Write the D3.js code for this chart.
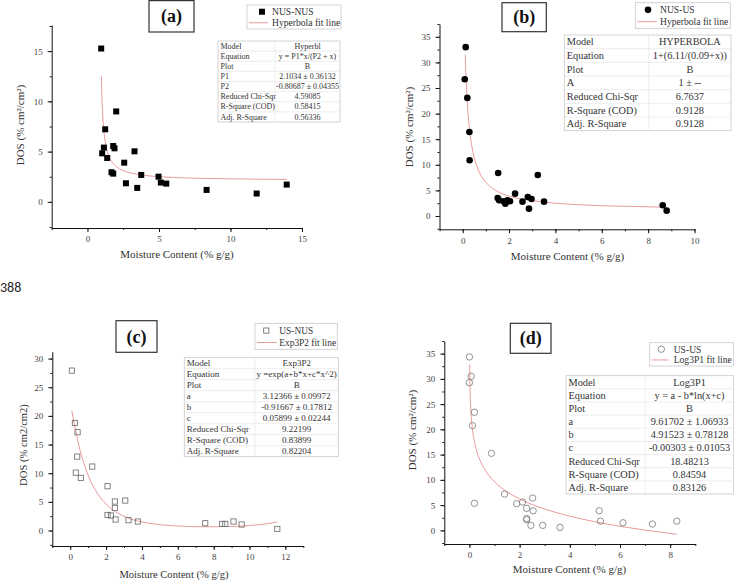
<!DOCTYPE html>
<html><head><meta charset="utf-8">
<script src="https://cdn.jsdelivr.net/npm/d3@7"></script>
<style>
body{margin:0;background:#fff}
svg{display:block}
</style></head>
<body>
<svg id="fig" width="734" height="580"></svg>
<script>
// ---------- Panel (a) NUS-NUS ----------
const aMoisture=[0.96,1.03,1.15,1.24,1.38,2.01,1.80,1.89,1.68,1.80,2.57,2.69,3.29,3.48,3.76,4.97,5.13,5.51,8.33,11.83,13.93];
const aDOS=[15.26,4.83,5.40,7.22,4.37,9.00,5.56,5.33,2.95,2.81,3.90,1.85,5.03,1.39,2.68,2.51,1.92,1.82,1.19,0.83,1.72];
const aFitX=[0.97,1.0,1.05,1.1,1.2,1.35,1.5,1.75,2,2.5,3,4,5,6,8,10,12,13.93];
const aFitY=[12.5,10.9,9.08,7.89,6.42,5.23,4.55,3.90,3.53,3.11,2.88,2.63,2.51,2.43,2.34,2.29,2.26,2.23];
const aXTicks=[0,5,10,15];
const aYTicks=[0,5,10,15];
const aTableLabels=["Model","Equation","Plot","P1","P2","Reduced Chi-Sqr","R-Square (COD)","Adj. R-Square"];
const aTableValues=["Hyperbl","y = P1*x/(P2 + x)","B","2.1034 ± 0.36132","-0.80687 ± 0.04355","4.59085","0.58415","0.56336"];

// ---------- Panel (b) NUS-US ----------
const bMoisture=[0.13,0.09,0.20,0.29,0.30,1.53,1.51,1.57,1.76,1.84,1.93,2.04,2.26,2.58,2.81,2.86,2.97,3.24,3.51,8.63,8.80];
const bDOS=[32.98,26.7,23.07,16.4,10.9,8.4,3.52,3.07,2.87,2.41,3.07,2.87,4.36,2.80,3.72,1.43,3.32,8.02,2.80,2.09,1.04];
const bFitX=[0.11,0.15,0.2,0.3,0.4,0.5,0.7,1,1.5,2,3,4,5,6,7,8,8.8];
const bFitY=[31.5,26.5,22.1,16.7,13.5,11.4,8.7,6.6,4.8,3.9,3.0,2.5,2.2,2.0,1.9,1.8,1.7];
const bXTicks=[0,2,4,6,8,10];
const bYTicks=[0,5,10,15,20,25,30,35];
const bTableLabels=["Model","Equation","Plot","A","Reduced Chi-Sqr","R-Square (COD)","Adj. R-Square"];
const bTableValues=["HYPERBOLA","1+(6.11/(0.09+x))","B","1 ± --","6.7637","0.9128","0.9128"];

// ---------- Panel (c) US-NUS ----------
const cMoisture=[0.09,0.26,0.41,0.39,0.31,0.59,1.23,2.08,2.49,3.07,2.49,2.08,2.27,2.53,3.25,3.77,7.53,8.48,8.65,9.11,9.56,11.55];
const cDOS=[27.9,18.77,17.15,12.9,10.1,9.18,11.16,7.73,5.06,5.23,3.94,2.72,2.62,1.92,1.80,1.57,1.27,1.16,1.16,1.57,1.05,0.28];
const cFitX=[0.09,0.5,1,1.5,2,2.5,3,3.5,4,5,6,7,7.8,9,10,11,11.55];
const cFitY=[20.9,14.6,9.64,6.56,4.60,3.32,2.47,1.89,1.49,1.02,0.78,0.67,0.65,0.71,0.87,1.20,1.50];
const cXTicks=[0,2,4,6,8,10,12];
const cYTicks=[0,5,10,15,20,25,30];
const cTableLabels=["Model","Equation","Plot","a","b","c","Reduced Chi-Sqr","R-Square (COD)","Adj. R-Square"];
const cTableValues=["Exp3P2","y =exp(a+b*x+c*x^2)","B","3.12366 ± 0.09972","-0.91667 ± 0.17812","0.05899 ± 0.02244","9.22199","0.83899","0.82204"];

// ---------- Panel (d) US-US ----------
const dMoisture=[0.0,0.07,0.0,0.2,0.12,0.2,0.88,1.40,1.88,2.12,2.52,2.28,2.54,2.28,2.28,2.45,2.92,3.61,5.17,5.22,6.12,7.29,8.26];
const dDOS=[34.34,30.5,29.25,23.38,20.73,5.35,15.26,7.19,5.27,5.61,6.4,4.36,3.88,2.35,2.1,0.99,0.99,0.59,3.88,1.84,1.51,1.25,1.84];
const dFitX=[0.012,0.02,0.03,0.05,0.1,0.2,0.3,0.5,0.75,1,1.5,2,3,4,5,6,7,8,8.26];
const dFitY=[32.8,29.65,27.38,24.65,21.08,17.6,15.58,13.05,11.05,9.63,7.63,6.22,4.22,2.81,1.71,0.81,0.05,-0.6,-0.76];
const dXTicks=[0,2,4,6,8];
const dYTicks=[0,5,10,15,20,25,30,35];
const dTableLabels=["Model","Equation","Plot","a","b","c","Reduced Chi-Sqr","R-Square (COD)","Adj. R-Square"];
const dTableValues=["Log3P1","y = a - b*ln(x+c)","B","9.61702 ± 1.06933","4.91523 ± 0.78128","-0.00303 ± 0.01053","18.48213","0.84594","0.83126"];

const svg=d3.select("#fig");
const FIT="#e58f8f";
const SERIF='"Liberation Serif","Times New Roman",serif';

function panel(p){
  const g=svg.append("g");
  const x=d3.scaleLinear().domain(p.xd).range(p.xr);
  const y=d3.scaleLinear().domain(p.yd).range(p.yr);
  const x0=p.xr[0], y0=p.yr[0];
  const xm=d3.range(p.xd[0],p.xd[1]+1e-9,p.xMinor);
  const ym=d3.range(Math.ceil(p.yd[0]/p.yMinor)*p.yMinor,p.yd[1]+1e-9,p.yMinor);
  g.append("g").attr("transform",`translate(0,${y0})`)
   .call(d3.axisBottom(x).tickValues(xm).tickSize(2).tickSizeOuter(0).tickFormat(""))
   .call(s=>s.select(".domain").remove());
  g.append("g").attr("transform",`translate(${x0},0)`)
   .call(d3.axisLeft(y).tickValues(ym).tickSize(2).tickSizeOuter(0).tickFormat(""))
   .call(s=>s.select(".domain").remove());
  const ax=g.append("g").attr("transform",`translate(0,${y0})`)
   .call(d3.axisBottom(x).tickValues(p.xTicks).tickSize(4).tickSizeOuter(0).tickPadding(4).tickFormat(d3.format("d")));
  const ay=g.append("g").attr("transform",`translate(${x0},0)`)
   .call(d3.axisLeft(y).tickValues(p.yTicks).tickSize(4).tickSizeOuter(0).tickPadding(5).tickFormat(d3.format("d")));
  [ax,ay].forEach(a=>{a.attr("font-family",null).attr("font-size",null);
    a.selectAll("text").style("font-size","9px").attr("fill","#444");
    a.select(".domain").attr("stroke","#111");});
  g.selectAll(".tick line").attr("stroke","#111");
  g.append("text").attr("x",p.xlab[0]).attr("y",p.xlab[1]).attr("text-anchor","middle")
   .style("font-size",p.labSize+"px").attr("fill","#333").text("Moisture Content (% g/g)");
  g.append("text").attr("transform",`translate(${p.ylab[0]},${p.ylab[1]}) rotate(-90)`).attr("text-anchor","middle")
   .style("font-size",p.labSize+"px").attr("fill","#333").text(p.ytitle);
  const fit=p.fitX.map((v,i)=>[v,p.fitY[i]]);
  g.append("path").datum(fit).attr("fill","none").attr("stroke",FIT).attr("stroke-width",0.9)
   .attr("d",d3.line().x(d=>x(d[0])).y(d=>y(d[1])).curve(d3.curveMonotoneX));
  const pts=p.px.map((v,i)=>[v,p.py[i]]);
  drawMarkers(g,pts.map(d=>[x(d[0]),y(d[1])]),p.marker);
  const tb=p.tbox;
  g.append("rect").attr("x",tb[0]).attr("y",tb[1]).attr("width",tb[2]).attr("height",tb[3])
   .attr("fill","#fff").attr("stroke","#333").attr("stroke-width",1.2);
  g.append("text").attr("x",tb[0]+tb[2]/2).attr("y",tb[1]+tb[3]/2+6).attr("text-anchor","middle")
   .style("font-size","18px").style("font-weight","bold").attr("fill","#111").text(p.title);
  const lg=p.legend;
  g.append("rect").attr("x",lg[0]).attr("y",lg[1]).attr("width",lg[2]).attr("height",lg[3])
   .attr("fill","#fff").attr("stroke","#c8c8c8").attr("stroke-width",0.8);
  const r1=lg[1]+lg[3]*0.28, r2=lg[1]+lg[3]*0.74;
  drawMarkers(g,[[lg[0]+p.legMx,r1]],p.marker);
  g.append("line").attr("x1",lg[0]+2).attr("x2",lg[0]+p.legLine).attr("y1",r2).attr("y2",r2)
   .attr("stroke",FIT).attr("stroke-width",0.9);
  g.append("text").attr("x",lg[0]+p.legTx).attr("y",r1+3.3).style("font-size",p.legSize+"px").attr("fill","#333").text(p.series);
  g.append("text").attr("x",lg[0]+p.legTx).attr("y",r2+3.3).style("font-size",p.legSize+"px").attr("fill","#333").text(p.fitName);
  const t=p.table, n=p.tl.length, rh=t[3]/n;
  const tg=g.append("g");
  tg.append("rect").attr("x",t[0]).attr("y",t[1]).attr("width",t[2]).attr("height",t[3])
   .attr("fill","#fff").attr("stroke","#c8c8c8").attr("stroke-width",0.8);
  for(let i=1;i<n;i++) tg.append("line").attr("x1",t[0]).attr("x2",t[0]+t[2]).attr("y1",t[1]+i*rh).attr("y2",t[1]+i*rh)
   .attr("stroke","#e2e2e2").attr("stroke-width",0.6);
  tg.append("line").attr("x1",t[4]).attr("x2",t[4]).attr("y1",t[1]).attr("y2",t[1]+t[3]).attr("stroke","#e2e2e2").attr("stroke-width",0.6);
  p.tl.forEach((s,i)=>{
    tg.append("text").attr("x",t[0]+2.5).attr("y",t[1]+(i+0.5)*rh+p.tSize*0.33).style("font-size",p.tSize+"px").attr("fill","#333").text(s);
    tg.append("text").attr("x",(t[4]+t[0]+t[2])/2).attr("y",t[1]+(i+0.5)*rh+p.tSize*0.33).attr("text-anchor","middle")
      .style("font-size",p.tSize+"px").attr("fill","#333").text(p.tv[i]);
  });
}

function drawMarkers(g,pts,m){
  pts.forEach(([px,py])=>{
    if(m==="fsq") g.append("rect").attr("x",px-3).attr("y",py-3).attr("width",6).attr("height",6).attr("fill","#000");
    else if(m==="fci") g.append("circle").attr("cx",px).attr("cy",py).attr("r",3.3).attr("fill","#000");
    else if(m==="osq") g.append("rect").attr("x",px-2.6).attr("y",py-2.6).attr("width",5.2).attr("height",5.2)
      .attr("fill","none").attr("stroke","#666").attr("stroke-width",0.8);
    else g.append("circle").attr("cx",px).attr("cy",py).attr("r",3.2).attr("fill","none").attr("stroke","#777").attr("stroke-width",0.8);
  });
}

panel({xd:[-2.5,15],xr:[51.7,302],yd:[-2.6,17.6],yr:[228,25],xMinor:2.5,yMinor:2.5,
  xTicks:aXTicks,yTicks:aYTicks,px:aMoisture,py:aDOS,fitX:aFitX,fitY:aFitY,marker:"fsq",
  xlab:[177,258],ylab:[24,125],labSize:11,ytitle:"DOS (% cm²/cm²)",
  tbox:[149,0.6,45,31.4],title:"(a)",
  legend:[247,5,94,24],legMx:15,legLine:21,legTx:25,legSize:9.6,series:"NUS-NUS",fitName:"Hyperbola fit line",
  table:[218,41,122,81,275],tl:aTableLabels,tv:aTableValues,tSize:8});

panel({xd:[-1,10],xr:[439.5,694.5],yd:[-2.6,37.5],yr:[229.3,24],xMinor:1,yMinor:2.5,
  xTicks:bXTicks,yTicks:bYTicks,px:bMoisture,py:bDOS,fitX:bFitX,fitY:bFitY,marker:"fci",
  xlab:[567.5,260],ylab:[413,127],labSize:11,ytitle:"DOS (% cm²/cm²)",
  tbox:[502,2.7,44.3,29],title:"(b)",
  legend:[635.3,2.7,95,25.6],legMx:12.7,legLine:21.7,legTx:24.7,legSize:9.6,series:"NUS-US",fitName:"Hyperbola fit line",
  table:[564.3,35,166.7,95.7,648.7],tl:bTableLabels,tv:bTableValues,tSize:10.3});

panel({xd:[-1,13],xr:[52.3,303.3],yd:[-2.7,31.2],yr:[546,351.7],xMinor:1,yMinor:2.5,
  xTicks:cXTicks,yTicks:cYTicks,px:cMoisture,py:cDOS,fitX:cFitX,fitY:cFitY,marker:"osq",
  xlab:[174,578],ylab:[27,445],labSize:10.6,ytitle:"DOS (% cm2/cm2)",
  tbox:[116,320.7,41,31.6],title:"(c)",
  legend:[255,323.3,82.3,26],legMx:11.3,legLine:21.7,legTx:24.3,legSize:9.4,series:"US-NUS",fitName:"Exp3P2 fit line",
  table:[184.3,357.7,154,99,255],tl:cTableLabels,tv:cTableValues,tSize:9});

panel({xd:[-1,9],xr:[444.3,695.3],yd:[-2.7,37.5],yr:[544,341],xMinor:1,yMinor:2.5,
  xTicks:dXTicks,yTicks:dYTicks,px:dMoisture,py:dDOS,fitX:dFitX,fitY:dFitY,marker:"oci",
  xlab:[569.5,573],ylab:[416,430],labSize:11,ytitle:"DOS (% cm²/cm²)",
  tbox:[510.3,323.3,40.7,30],title:"(d)",
  legend:[649.7,342.7,84,23.3],legMx:11.6,legLine:19,legTx:24,legSize:9.6,series:"US-US",fitName:"Log3P1 fit line",
  table:[566,375.7,167.7,118.3,645.3],tl:dTableLabels,tv:dTableValues,tSize:10.3});

svg.selectAll("text").style("font-family",SERIF);
svg.selectAll("text").filter(function(){return d3.select(this).style("font-weight")!=="bold" && d3.select(this).style("font-weight")!=="700";}).style("font-weight","normal");

svg.append("text").attr("x",0).attr("y",292).style("font-family",'"Carlito","Liberation Sans",sans-serif')
  .style("font-size","14px").attr("fill","#222").text("388");
</script>
</body></html>
